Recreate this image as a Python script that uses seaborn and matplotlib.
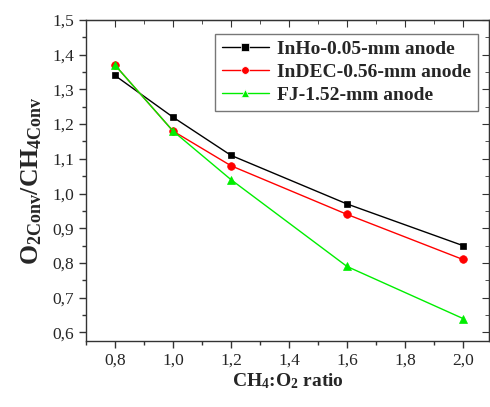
import matplotlib
matplotlib.use("Agg")
import matplotlib.pyplot as plt
import seaborn as sns
import pandas as pd
from matplotlib.ticker import MultipleLocator, FuncFormatter

ratio = [0.8, 1.0, 1.2, 1.6, 2.0]
inho = [1.34, 1.22, 1.11, 0.97, 0.85]
indec = [1.37, 1.18, 1.08, 0.94, 0.81]
fj = [1.37, 1.18, 1.04, 0.79, 0.64]
series_names = ["InHo-0.05-mm anode", "InDEC-0.56-mm anode", "FJ-1.52-mm anode"]
colors = ["black", "#ff0000", "#00ee00"]
markers = ["s", "o", "^"]

rows = []
for name, vals in zip(series_names, [inho, indec, fj]):
    for x, y in zip(ratio, vals):
        rows.append({"ratio": x, "value": y, "series": name})
df = pd.DataFrame(rows)

sns.set_style("ticks")
plt.rcParams["font.family"] = ["Liberation Serif", "DejaVu Serif"]
plt.rcParams["mathtext.fontset"] = "custom"
plt.rcParams["mathtext.rm"] = "Liberation Serif"
plt.rcParams["mathtext.bf"] = "Liberation Serif:bold"
plt.rcParams["mathtext.it"] = "Liberation Serif:italic"

fig = plt.figure(figsize=(4.9, 4.07), dpi=100)
ax = fig.add_axes([0.1755, 0.162, 0.8225, 0.789])

sns.lineplot(data=df, x="ratio", y="value", hue="series", style="series",
             markers=markers, dashes=False, palette=colors, ax=ax,
             linewidth=1.0, markersize=5.5, markeredgewidth=0.5)
for line, c in zip(ax.lines, colors):
    line.set_markeredgecolor(c)
ax.lines[0].set_markersize(5)

ax.set_xlim(0.7, 2.09)
ax.set_ylim(0.575, 1.5)
ax.xaxis.set_major_locator(MultipleLocator(0.2))
ax.xaxis.set_minor_locator(MultipleLocator(0.1))
ax.yaxis.set_major_locator(MultipleLocator(0.1))
ax.yaxis.set_minor_locator(MultipleLocator(0.05))
fmt = FuncFormatter(lambda v, p: f"{v:.1f}".replace(".", ","))
ax.xaxis.set_major_formatter(fmt)
ax.yaxis.set_major_formatter(fmt)
ax.tick_params(axis="both", which="both", direction="out", top=False, right=False,
               labelsize=12.5, width=1, color="#333333")
ax.tick_params(which="major", length=5)
ax.tick_params(which="minor", length=3)

sec_top = ax.secondary_xaxis("top")
sec_top.xaxis.set_major_locator(MultipleLocator(0.2))
sec_top.xaxis.set_minor_locator(MultipleLocator(0.1))
sec_top.tick_params(which="both", direction="in", labeltop=False, color="#333333")
sec_top.tick_params(which="major", length=5)
sec_top.tick_params(which="minor", length=3)
sec_right = ax.secondary_yaxis("right")
sec_right.yaxis.set_major_locator(MultipleLocator(0.1))
sec_right.yaxis.set_minor_locator(MultipleLocator(0.05))
sec_right.tick_params(which="both", direction="in", labelright=False, color="#333333")
sec_right.tick_params(which="major", length=5)
sec_right.tick_params(which="minor", length=3)
for s in ax.spines.values():
    s.set_color("#333333")
    s.set_linewidth(1.0)

ax.set_xlabel(r"$\mathbf{CH_4}$:$\mathbf{O_2}$ ratio", fontsize=14, fontweight="bold", labelpad=2)
ax.set_ylabel(r"$\mathbf{O_{2Conv}/CH_{4Conv}}$", fontsize=18.5, labelpad=6)

leg = ax.legend(loc="upper right", bbox_to_anchor=(0.973, 0.957), borderaxespad=0,
                frameon=True, fancybox=False,
                edgecolor="#555555", prop={"family": "Liberation Serif", "weight": "bold", "size": 14},
                handlelength=2.4, borderpad=0.35, labelspacing=0.28, handletextpad=0.45)
leg.get_frame().set_linewidth(1.0)

fig.savefig("out.png", dpi=100)
